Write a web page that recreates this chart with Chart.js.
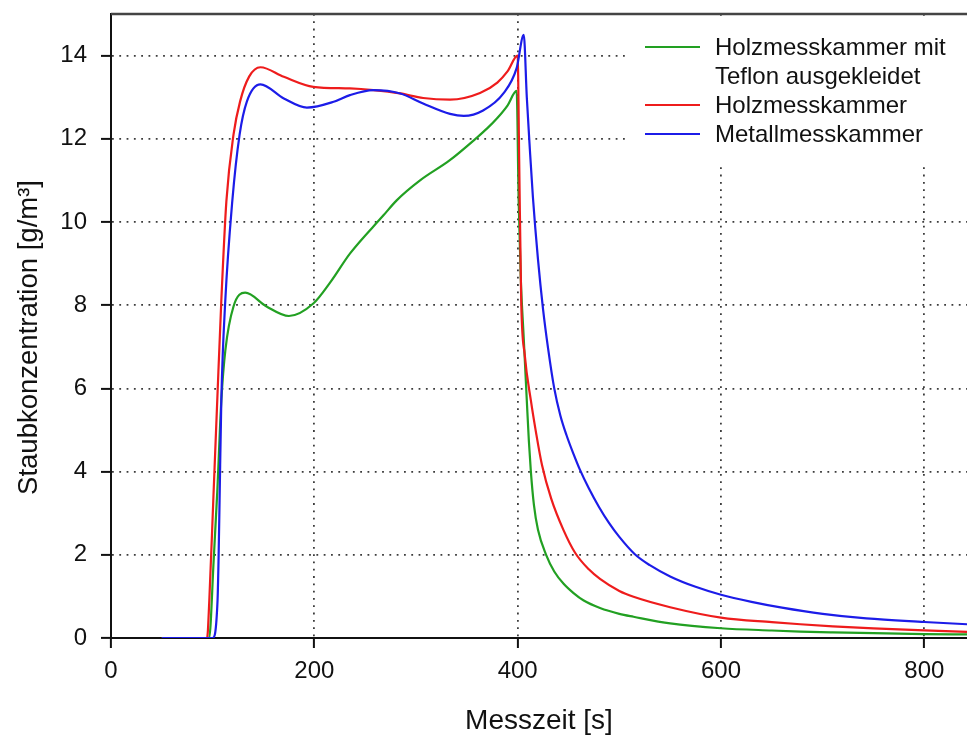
<!DOCTYPE html>
<html lang="de">
<head>
    <meta charset="UTF-8">
    <title>Staubkonzentration - Messkammervergleich</title>
    <script src="https://cdn.jsdelivr.net/npm/chart.js"></script>
    <style>
        body { margin: 0; background: #fff; }
    </style>
</head>
<body>
    <canvas id="staubChart" width="967" height="736"></canvas>
    <script>
        // Messzeit [s] und Staubkonzentration [g/m³] je Messkammer
        const tefTime = [50, 96.5, 101, 104.5, 108.5, 112.5, 120.5, 132, 153, 175, 199, 216, 235, 268, 281, 304, 333, 360, 370, 380, 390, 399,
                         401, 403, 406, 409, 411, 413, 416, 420, 428, 436, 445, 455, 465, 481, 500, 514, 550, 600, 650, 678, 710, 750, 800, 842];
        const tefConc = [0, 0, 1.87, 3.5, 5.7, 6.92, 7.97, 8.3, 7.97, 7.74, 8.04, 8.56, 9.24, 10.16, 10.52, 11.0, 11.48, 12.03, 12.25, 12.5, 12.8, 13.15,
                         10.5, 8.7, 7.2, 5.71, 4.75, 4.0, 3.2, 2.6, 2.0, 1.6, 1.31, 1.08, 0.9, 0.72, 0.58, 0.51, 0.35, 0.235, 0.18, 0.155, 0.135, 0.115, 0.095, 0.085];

        const holzTime = [50, 94.5, 96.7, 100.6, 104.5, 108.5, 113.5, 120.5, 127, 136, 147, 170, 199, 235, 258, 284.5, 307, 333.5, 363, 380, 390, 400,
                          401.5, 403.5, 407, 413, 418, 424, 433, 445, 456.5, 470, 481, 500, 514, 550, 600, 650, 678, 710, 750, 800, 842];
        const holzConc = [0, 0, 0.9, 3.3, 5.7, 8.1, 10.5, 12.1, 12.9, 13.5, 13.72, 13.49, 13.25, 13.21, 13.17, 13.09, 12.98, 12.94, 13.1, 13.35, 13.62, 14.0,
                          11.5, 8.1, 6.8, 5.71, 4.95, 4.15, 3.35, 2.6, 2.05, 1.65, 1.42, 1.13, 0.99, 0.74, 0.49, 0.38, 0.33, 0.28, 0.23, 0.185, 0.145];

        const metTime = [50, 100, 104.8, 105.8, 106.8, 108.5, 112.4, 119.3, 126.5, 133.7, 147, 170, 192.7, 219, 235, 258, 284.5, 307, 333.5, 347, 366, 386, 399, 406,
                         409, 412, 415, 420, 425, 430, 436, 442, 448, 455, 461, 470, 480, 490, 500, 515, 530, 550, 575, 600, 630, 660, 700, 743, 800, 842];
        const metConc = [0, 0, 0.9, 1.9, 3.3, 5.7, 8.1, 10.5, 12.1, 12.9, 13.31, 12.97, 12.75, 12.89, 13.05, 13.17, 13.09, 12.85, 12.6, 12.55, 12.68, 13.09, 13.7, 14.5,
                         13.0, 11.75, 10.6, 9.1, 7.9, 6.95, 6.0, 5.35, 4.88, 4.42, 4.06, 3.6, 3.15, 2.76, 2.43, 2.02, 1.75, 1.48, 1.23, 1.04, 0.87, 0.73, 0.58, 0.47, 0.385, 0.33];

        const xTicks = [0, 200, 400, 600, 800];
        const yTicks = [0, 2, 4, 6, 8, 10, 12, 14];

        const legendLines = [
            ['Holzmesskammer mit', 'Teflon ausgekleidet'],
            ['Holzmesskammer'],
            ['Metallmesskammer']
        ];

        const fontFamily = "'Liberation Sans', Arial, sans-serif";
        const toPoints = (xs, ys) => xs.map((x, i) => ({ x: x, y: ys[i] }));

        // legend panel (white box over the grid) and the top frame line
        const legendBox = {
            id: 'legendBox',
            beforeDatasetsDraw(chart) {
                const { ctx, chartArea } = chart;
                const boxLeft = chartArea.right - 339;
                ctx.save();
                ctx.fillStyle = '#fff';
                ctx.fillRect(boxLeft, chartArea.top + 2, chartArea.right - boxLeft, 151);

                ctx.font = '24px ' + fontFamily;
                ctx.fillStyle = '#111';
                ctx.textAlign = 'left';
                ctx.textBaseline = 'alphabetic';
                let baseline = chartArea.top + 41;
                legendLines.forEach((lines, i) => {
                    const ds = chart.data.datasets[i];
                    ctx.strokeStyle = ds.borderColor;
                    ctx.lineWidth = 2.2;
                    ctx.beginPath();
                    ctx.moveTo(chartArea.right - 322, baseline - 8);
                    ctx.lineTo(chartArea.right - 267, baseline - 8);
                    ctx.stroke();
                    lines.forEach(txt => {
                        ctx.fillText(txt, chartArea.right - 252, baseline);
                        baseline += 29;
                    });
                });

                ctx.strokeStyle = '#444';
                ctx.lineWidth = 2.5;
                ctx.beginPath();
                ctx.moveTo(chartArea.left, chartArea.top);
                ctx.lineTo(chartArea.right, chartArea.top);
                ctx.stroke();
                ctx.restore();
            }
        };

        const gridOpts = {
            color: '#3c3c3c',
            lineWidth: 1.8,
            tickLength: 10,
            tickColor: '#111',
            tickWidth: 2
        };
        const borderOpts = { color: '#111', width: 2, dash: [1.8, 5.5] };

        // no extra room for the outermost tick labels
        const noEdgePadding = s => {
            s.paddingTop = 0;
            s.paddingBottom = 0;
            s.paddingLeft = 0;
            s.paddingRight = 0;
        };

        new Chart(document.getElementById('staubChart'), {
            type: 'line',
            data: {
                datasets: [
                    {
                        label: 'Holzmesskammer mit Teflon ausgekleidet',
                        data: toPoints(tefTime, tefConc),
                        borderColor: '#22a022',
                        order: 2
                    },
                    {
                        label: 'Holzmesskammer',
                        data: toPoints(holzTime, holzConc),
                        borderColor: '#ee1c1c',
                        order: 1
                    },
                    {
                        label: 'Metallmesskammer',
                        data: toPoints(metTime, metConc),
                        borderColor: '#1c1ce8',
                        order: 0
                    }
                ]
            },
            options: {
                responsive: false,
                animation: false,
                layout: { padding: { top: 14, right: 0, bottom: 0, left: 0 } },
                elements: {
                    point: { radius: 0 },
                    line: { borderWidth: 2.2, cubicInterpolationMode: 'monotone', fill: false }
                },
                plugins: {
                    legend: { display: false },
                    tooltip: { enabled: false }
                },
                scales: {
                    x: {
                        type: 'linear',
                        min: 0,
                        max: 842,
                        afterBuildTicks: s => { s.ticks = xTicks.map(v => ({ value: v })); },
                        afterFit: s => { s.height = 98; noEdgePadding(s); },
                        grid: gridOpts,
                        border: borderOpts,
                        ticks: {
                            color: '#111',
                            padding: 9,
                            maxRotation: 0,
                            autoSkip: false,
                            font: { family: fontFamily, size: 24 }
                        },
                        title: {
                            display: true,
                            text: 'Messzeit [s]',
                            color: '#111',
                            font: { family: fontFamily, size: 28, lineHeight: 1 },
                            padding: { top: 0, bottom: 1 }
                        }
                    },
                    y: {
                        type: 'linear',
                        min: 0,
                        max: 15,
                        afterBuildTicks: s => { s.ticks = yTicks.map(v => ({ value: v })); },
                        afterFit: s => { s.width = 111; noEdgePadding(s); },
                        grid: gridOpts,
                        border: borderOpts,
                        ticks: {
                            color: '#111',
                            padding: 14,
                            autoSkip: false,
                            font: { family: fontFamily, size: 24 }
                        },
                        title: {
                            display: true,
                            // trailing spaces nudge the rotated title a bit lower
                            text: 'Staubkonzentration [g/m³]\u00a0\u00a0\u00a0',
                            color: '#111',
                            font: { family: fontFamily, size: 27.5, lineHeight: 1 },
                            padding: { top: 16, bottom: 0 }
                        }
                    }
                }
            },
            plugins: [legendBox]
        });
    </script>
</body>
</html>
